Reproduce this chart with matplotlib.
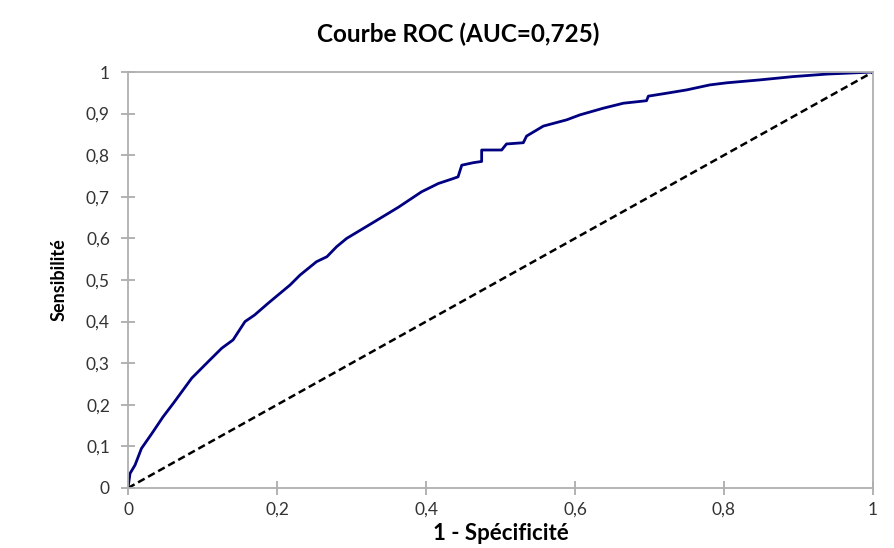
import matplotlib
matplotlib.use('Agg')
import matplotlib.pyplot as plt

# Points de la courbe ROC
fpr = [0, 0.0027, 0.0094, 0.018, 0.032, 0.047, 0.061, 0.0855, 0.110, 0.1258,
       0.141, 0.157, 0.170, 0.188, 0.2175, 0.231, 0.253, 0.267, 0.280, 0.2935,
       0.327, 0.363, 0.394, 0.4166, 0.4367, 0.443, 0.448, 0.4635, 0.4747, 0.4747,
       0.5016, 0.508, 0.5306, 0.535, 0.5575, 0.5888, 0.6067, 0.638, 0.665, 0.696,
       0.6985, 0.723, 0.750, 0.781, 0.8036, 0.848, 0.893, 0.938, 1.0]
tpr = [0, 0.035, 0.055, 0.095, 0.131, 0.171, 0.204, 0.264, 0.308, 0.336,
       0.356, 0.400, 0.416, 0.444, 0.488, 0.512, 0.544, 0.556, 0.580, 0.600,
       0.636, 0.675, 0.712, 0.732, 0.744, 0.748, 0.776, 0.782, 0.785, 0.8125,
       0.8125, 0.827, 0.830, 0.846, 0.870, 0.885, 0.897, 0.913, 0.925, 0.931,
       0.942, 0.949, 0.957, 0.969, 0.974, 0.981, 0.989, 0.995, 1.0]

ticks = [0, 0.2, 0.4, 0.6, 0.8, 1]
tick_labels = ['0', '0,2', '0,4', '0,6', '0,8', '1']
yticks = [0, 0.1, 0.2, 0.3, 0.4, 0.5, 0.6, 0.7, 0.8, 0.9, 1]
ytick_labels = ['0', '0,1', '0,2', '0,3', '0,4', '0,5', '0,6', '0,7', '0,8', '0,9', '1']

plt.rcParams['font.family'] = ['Lato', 'DejaVu Sans']

fig = plt.figure(figsize=(8.94, 5.48), dpi=100)
ax = fig.add_axes([0.1432, 0.1095, 0.8333, 0.7591])

# diagonale + courbe
ax.plot([0, 1], [0, 1], color='black', linestyle=(0, (3, 1.6)), linewidth=1.8)
ax.plot(fpr, tpr, color='#000080', linewidth=2)

ax.set_xlim(0, 1)
ax.set_ylim(0, 1)
ax.set_xticks(ticks)
ax.set_xticklabels(tick_labels)
ax.set_yticks(yticks)
ax.set_yticklabels(ytick_labels)
ax.tick_params(direction='inout', length=10, width=1.2, color='#a6a6a6',
               labelsize=12.5, labelcolor='#333333')
ax.tick_params(axis='y', pad=8)
ax.tick_params(axis='x', pad=5)
for s in ax.spines.values():
    s.set_color('#b0b0b0')
    s.set_linewidth(1.3)

fig.suptitle('Courbe ROC (AUC=0,725)', x=0.512, y=0.958, fontsize=17.5, fontweight='bold')
ax.set_xlabel('1 - Spécificité', fontsize=16, fontweight='bold', labelpad=4)
ax.set_ylabel('Sensibilité', fontsize=13, fontweight='bold', labelpad=13)

fig.savefig('out.png', dpi=100)
